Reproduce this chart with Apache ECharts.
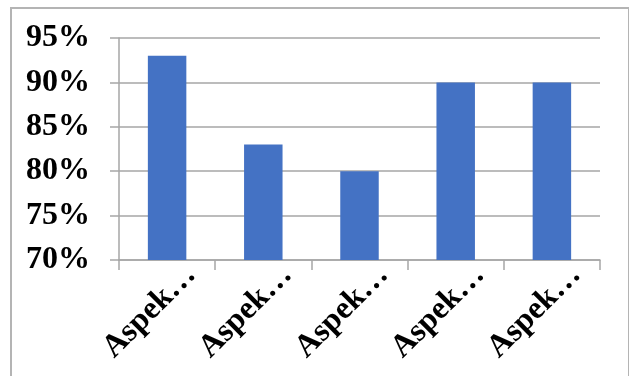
<!DOCTYPE html>
<html>
<head>
<meta charset="utf-8">
<script src="https://cdn.jsdelivr.net/npm/echarts@6/dist/echarts.min.js"></script>
<style>
  html, body { margin: 0; padding: 0; background: #fff; }
  #frame { position: absolute; left: 10px; top: 7px; width: 620px; height: 400px; border: 2px solid #b4b4b4; box-sizing: border-box; }
  #chart { position: absolute; left: 0; top: 0; width: 629px; height: 376px; }
</style>
</head>
<body>
<div id="frame"></div>
<div id="chart"></div>
<script>
// categories (labels are cut off in the original)
const categories = ['Aspek…', 'Aspek…', 'Aspek…', 'Aspek…', 'Aspek…']
// percentages
const values = [93, 83, 80, 90, 90]
const yMin = 70
const yMax = 95
const yStep = 5

const chart = echarts.init(document.getElementById('chart'))

const fontFamily = 'Liberation Serif'

chart.setOption({
  animation: false,
  grid: {
    left: 119,
    right: 29,
    top: 38,
    bottom: 116,
  },
  xAxis: {
    type: 'category',
    data: categories,
    axisLine: { show: true, lineStyle: { color: '#a6a6a6', width: 1.5 } },
    axisTick: { show: true, length: 10, lineStyle: { color: '#a6a6a6', width: 1.5 } },
    axisLabel: {
      rotate: 45,
      margin: 34,
      interval: 0,
      color: '#000',
      fontFamily: fontFamily,
      fontWeight: 'bold',
      fontSize: 32,
      padding: [0, -34, 0, 0],
    },
  },
  yAxis: {
    type: 'value',
    min: yMin,
    max: yMax,
    interval: yStep,
    axisLine: { show: true, lineStyle: { color: '#a6a6a6', width: 1.5 } },
    axisTick: { show: true, length: 9, lineStyle: { color: '#a6a6a6', width: 1.5 } },
    splitLine: { show: true, lineStyle: { color: '#a6a6a6', width: 1.5 } },
    axisLabel: {
      margin: 29,
      color: '#000',
      fontFamily: fontFamily,
      fontWeight: 'bold',
      fontSize: 32,
      formatter: '{value}%',
    },
  },
  series: [
    {
      type: 'bar',
      data: values,
      barWidth: '40%',
      itemStyle: { color: '#4472c4' },
    },
  ],
})
</script>
</body>
</html>
